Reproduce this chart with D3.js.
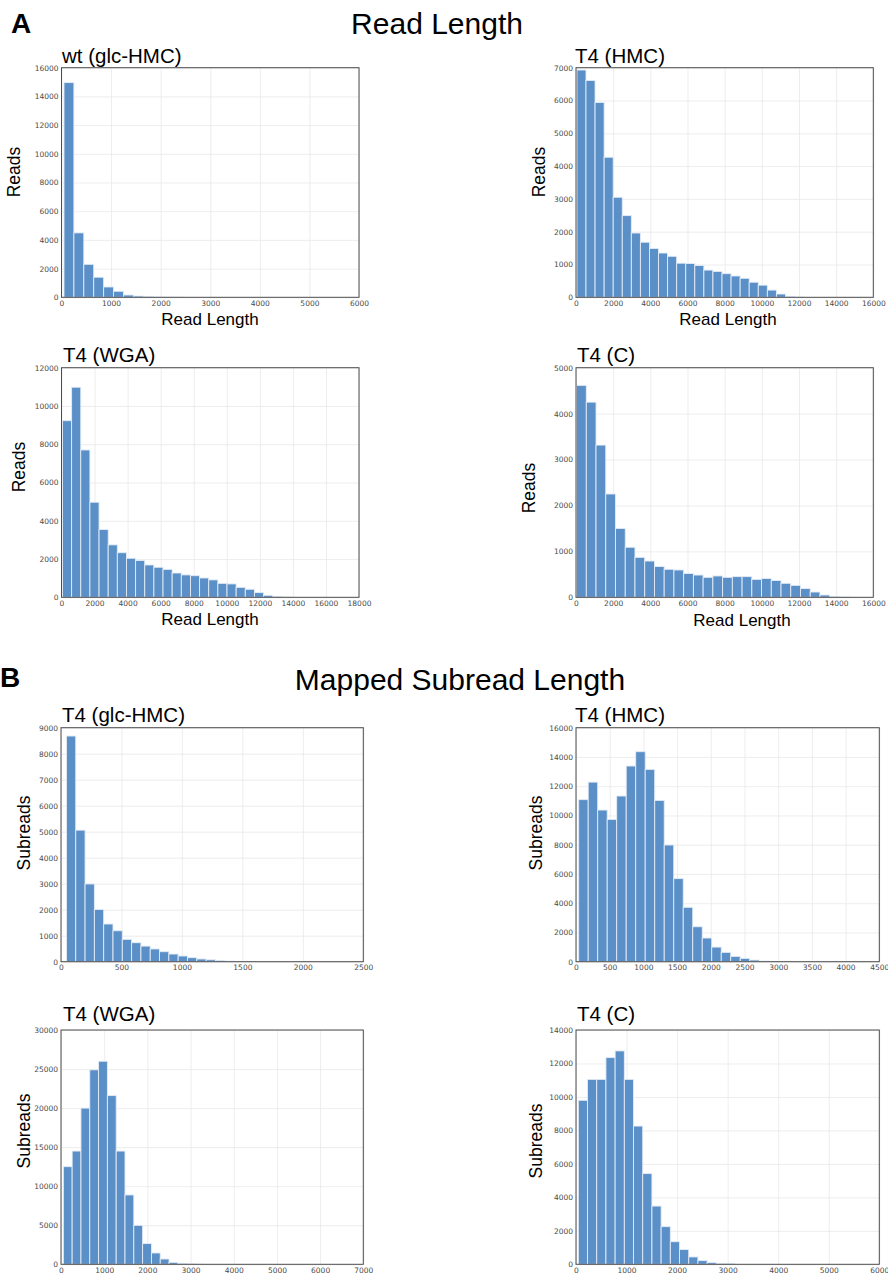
<!doctype html>
<html lang="en">
  <head>
    <meta charset="utf-8">
    <title>Read length histograms</title>
    <script src="https://d3js.org/d3.v7.min.js"></script>
    <style>
      body {
        margin: 0;
        background: #fff;
      }
      .tick text {
        font-family: 'DejaVu Sans', sans-serif;
        font-size: 7.5px;
        fill: #4a4a4a;
      }
      .grid line {
        stroke: #e8e8e8;
        stroke-width: 0.8;
      }
      .grid .domain {
        display: none;
      }
    </style>
  </head>
  <body>
    <div id="root"></div>
  </body>
  <script>

    //data: histogram counts per bin, first bin edge and bin width
    const wtGlcReadCounts = [14960, 4490, 2300, 1400, 720, 420, 160, 90, 40, 20, 10, 5];
    const wtGlcReadBins = [50, 200];

    const hmcReadCounts = [6930, 6610, 5940, 4270, 3050, 2490, 1960, 1680, 1490, 1350, 1250, 1040,
      1030, 970, 830, 790, 720, 650, 580, 460, 370, 220, 100, 30, 8];
    const hmcReadBins = [50, 488];

    const wgaReadCounts = [9230, 10980, 7700, 4970, 3540, 2740, 2330, 2040, 1920, 1690, 1570, 1460,
      1270, 1170, 1130, 1010, 910, 730, 700, 520, 420, 245, 105, 35, 8];
    const wgaReadBins = [60, 553];

    const cReadCounts = [4615, 4250, 3315, 2250, 1500, 1090, 870, 790, 670, 610, 595, 520, 485,
      435, 465, 435, 450, 450, 390, 410, 365, 305, 260, 190, 115, 50, 20, 5];
    const cReadBins = [30, 524];

    const glcSubCounts = [8680, 5060, 2990, 2010, 1450, 1190, 860, 730, 600, 490, 385, 295,
      220, 155, 105, 75, 50, 25, 12, 6];
    const glcSubBins = [45, 77];

    const hmcSubCounts = [11080, 12280, 10370, 9730, 11330, 13380, 14360, 13150, 11030, 7980,
      5680, 3720, 2390, 1620, 1000, 640, 365, 230, 115, 46, 20];
    const hmcSubBins = [40, 141];

    const wgaSubCounts = [12500, 14500, 20000, 24900, 26000, 21600, 14500, 8880, 4990, 2650,
      1450, 680, 250, 130, 50, 15];
    const wgaSubBins = [54, 204];

    const cSubCounts = [9800, 11050, 11050, 12350, 12750, 11050, 8260, 5420, 3480, 2250, 1350,
      880, 440, 220, 100, 50, 30];
    const cSubBins = [46, 182];

    //tick labels
    const ticks0to6000 = [0, 1000, 2000, 3000, 4000, 5000, 6000];
    const ticks0to7000 = [0, 1000, 2000, 3000, 4000, 5000, 6000, 7000];
    const ticks0to16000 = [0, 2000, 4000, 6000, 8000, 10000, 12000, 14000, 16000];
    const ticks0to18000 = [0, 2000, 4000, 6000, 8000, 10000, 12000, 14000, 16000, 18000];
    const ticks0to12000 = [0, 2000, 4000, 6000, 8000, 10000, 12000];
    const ticks0to5000 = [0, 1000, 2000, 3000, 4000, 5000];
    const ticks0to2500 = [0, 500, 1000, 1500, 2000, 2500];
    const ticks0to9000 = [0, 1000, 2000, 3000, 4000, 5000, 6000, 7000, 8000, 9000];
    const ticks0to4500 = [0, 500, 1000, 1500, 2000, 2500, 3000, 3500, 4000, 4500];
    const ticks0to30000 = [0, 5000, 10000, 15000, 20000, 25000, 30000];
    const ticks0to14000 = [0, 2000, 4000, 6000, 8000, 10000, 12000, 14000];

    //panel text
    const panelTitles = ['wt (glc-HMC)', 'T4 (HMC)', 'T4 (WGA)', 'T4 (C)',
      'T4 (glc-HMC)', 'T4 (HMC)', 'T4 (WGA)', 'T4 (C)'];

    //constants:
    const width = 888;
    const height = 1276;
    const barColor = '#5a8fc7';
    const font = "'Liberation Sans', Arial, sans-serif";

    const panels = [
      { title: panelTitles[0], counts: wtGlcReadCounts, bins: wtGlcReadBins, xTicks: ticks0to6000, yTicks: ticks0to16000,
        box: [61.5, 67.7, 359, 297.3], yLabel: 'Reads', yl: [20, 172], xLabel: 'Read Length', xl: [210, 325], tt: [62, 63] },
      { title: panelTitles[1], counts: hmcReadCounts, bins: hmcReadBins, xTicks: ticks0to16000, yTicks: ticks0to7000,
        box: [576, 67.7, 873.3, 297.3], yLabel: 'Reads', yl: [545, 172], xLabel: 'Read Length', xl: [728, 325], tt: [575, 62.5] },
      { title: panelTitles[2], counts: wgaReadCounts, bins: wgaReadBins, xTicks: ticks0to18000, yTicks: ticks0to12000,
        box: [61.5, 367.7, 359, 597.3], yLabel: 'Reads', yl: [25, 467], xLabel: 'Read Length', xl: [210, 625], tt: [63, 362] },
      { title: panelTitles[3], counts: cReadCounts, bins: cReadBins, xTicks: ticks0to16000, yTicks: ticks0to5000,
        box: [576, 367.7, 873.3, 597.3], yLabel: 'Reads', yl: [535, 488], xLabel: 'Read Length', xl: [742, 626], tt: [577, 362] },
      { title: panelTitles[4], counts: glcSubCounts, bins: glcSubBins, xTicks: ticks0to2500, yTicks: ticks0to9000,
        box: [61, 727.7, 363.3, 961.7], yLabel: 'Subreads', yl: [30, 833], tt: [62, 722] },
      { title: panelTitles[5], counts: hmcSubCounts, bins: hmcSubBins, xTicks: ticks0to4500, yTicks: ticks0to16000,
        box: [576, 727.7, 879.3, 961.7], yLabel: 'Subreads', yl: [542, 833], tt: [575, 721.7] },
      { title: panelTitles[6], counts: wgaSubCounts, bins: wgaSubBins, xTicks: ticks0to7000, yTicks: ticks0to30000,
        box: [61, 1030, 363.3, 1264.3], yLabel: 'Subreads', yl: [30, 1131], tt: [63, 1021] },
      { title: panelTitles[7], counts: cSubCounts, bins: cSubBins, xTicks: ticks0to6000, yTicks: ticks0to14000,
        box: [576, 1030, 879.3, 1264.3], yLabel: 'Subreads', yl: [542, 1141], tt: [577, 1021] }
    ];

    //svg:
    const svg = d3.select('#root')
      .append('svg')
      .attr('width', width)
      .attr('height', height)
      .style('display', 'block');

    svg.append('rect').attr('width', width).attr('height', height).attr('fill', '#fff');

    //section headings
    svg.append('text').attr('x', 11).attr('y', 33)
      .attr('font-family', font).attr('font-size', 28).attr('font-weight', 'bold').text('A');
    svg.append('text').attr('x', 437).attr('y', 34).attr('text-anchor', 'middle')
      .attr('font-family', font).attr('font-size', 30).text('Read Length');
    svg.append('text').attr('x', 0).attr('y', 687)
      .attr('font-family', font).attr('font-size', 28).attr('font-weight', 'bold').text('B');
    svg.append('text').attr('x', 460).attr('y', 690).attr('text-anchor', 'middle')
      .attr('font-family', font).attr('font-size', 30).text('Mapped Subread Length');

    panels.forEach(p => {
      const [x0, y0, x1, y1] = p.box;
      const w = x1 - x0;
      const h = y1 - y0;

      const xScale = d3.scaleLinear()
        .domain([0, d3.max(p.xTicks)])
        .range([0, w]);
      const yScale = d3.scaleLinear()
        .domain([0, d3.max(p.yTicks)])
        .range([h, 0]);

      const g = svg.append('g').attr('transform', `translate(${x0}, ${y0})`);

      //grid
      g.append('g').attr('class', 'grid')
        .attr('transform', `translate(0, ${h})`)
        .call(d3.axisBottom(xScale).tickValues(p.xTicks).tickSize(-h).tickFormat(''));
      g.append('g').attr('class', 'grid')
        .call(d3.axisLeft(yScale).tickValues(p.yTicks).tickSize(-w).tickFormat(''));

      //bars
      const [lo, bw] = p.bins;
      const bars = p.counts.map((c, i) => ({ x0: lo + i * bw, x1: lo + (i + 1) * bw, count: c }));
      g.selectAll('rect.bar')
        .data(bars)
        .enter()
        .append('rect')
        .attr('class', 'bar')
        .attr('x', d => xScale(d.x0))
        .attr('width', d => xScale(d.x1) - xScale(d.x0))
        .attr('y', d => yScale(d.count))
        .attr('height', d => h - yScale(d.count))
        .attr('fill', barColor)
        .attr('stroke', '#e4ecf6')
        .attr('stroke-width', 0.9);

      //frame
      g.append('rect')
        .attr('width', w).attr('height', h)
        .attr('fill', 'none').attr('stroke', '#4d4d4d').attr('stroke-width', 1);

      //axes
      const xAxis = g.append('g')
        .attr('transform', `translate(0, ${h})`)
        .call(d3.axisBottom(xScale).tickValues(p.xTicks).tickSize(0).tickPadding(3).tickFormat(d3.format('d')));
      xAxis.select('.domain').remove();

      const yAxis = g.append('g')
        .call(d3.axisLeft(yScale).tickValues(p.yTicks).tickSize(0).tickPadding(3).tickFormat(d3.format('d')));
      yAxis.select('.domain').remove();

      //labels
      svg.append('text')
        .attr('x', p.tt[0]).attr('y', p.tt[1])
        .attr('font-family', font).attr('font-size', 20.5)
        .text(p.title);

      svg.append('text')
        .attr('transform', `translate(${p.yl[0]}, ${p.yl[1]}) rotate(-90)`)
        .attr('text-anchor', 'middle')
        .attr('font-family', font).attr('font-size', 17.5)
        .text(p.yLabel);

      if (p.xLabel) {
        svg.append('text')
          .attr('x', p.xl[0]).attr('y', p.xl[1])
          .attr('text-anchor', 'middle')
          .attr('font-family', font).attr('font-size', 17)
          .text(p.xLabel);
      }
    });

  </script>
</html>
